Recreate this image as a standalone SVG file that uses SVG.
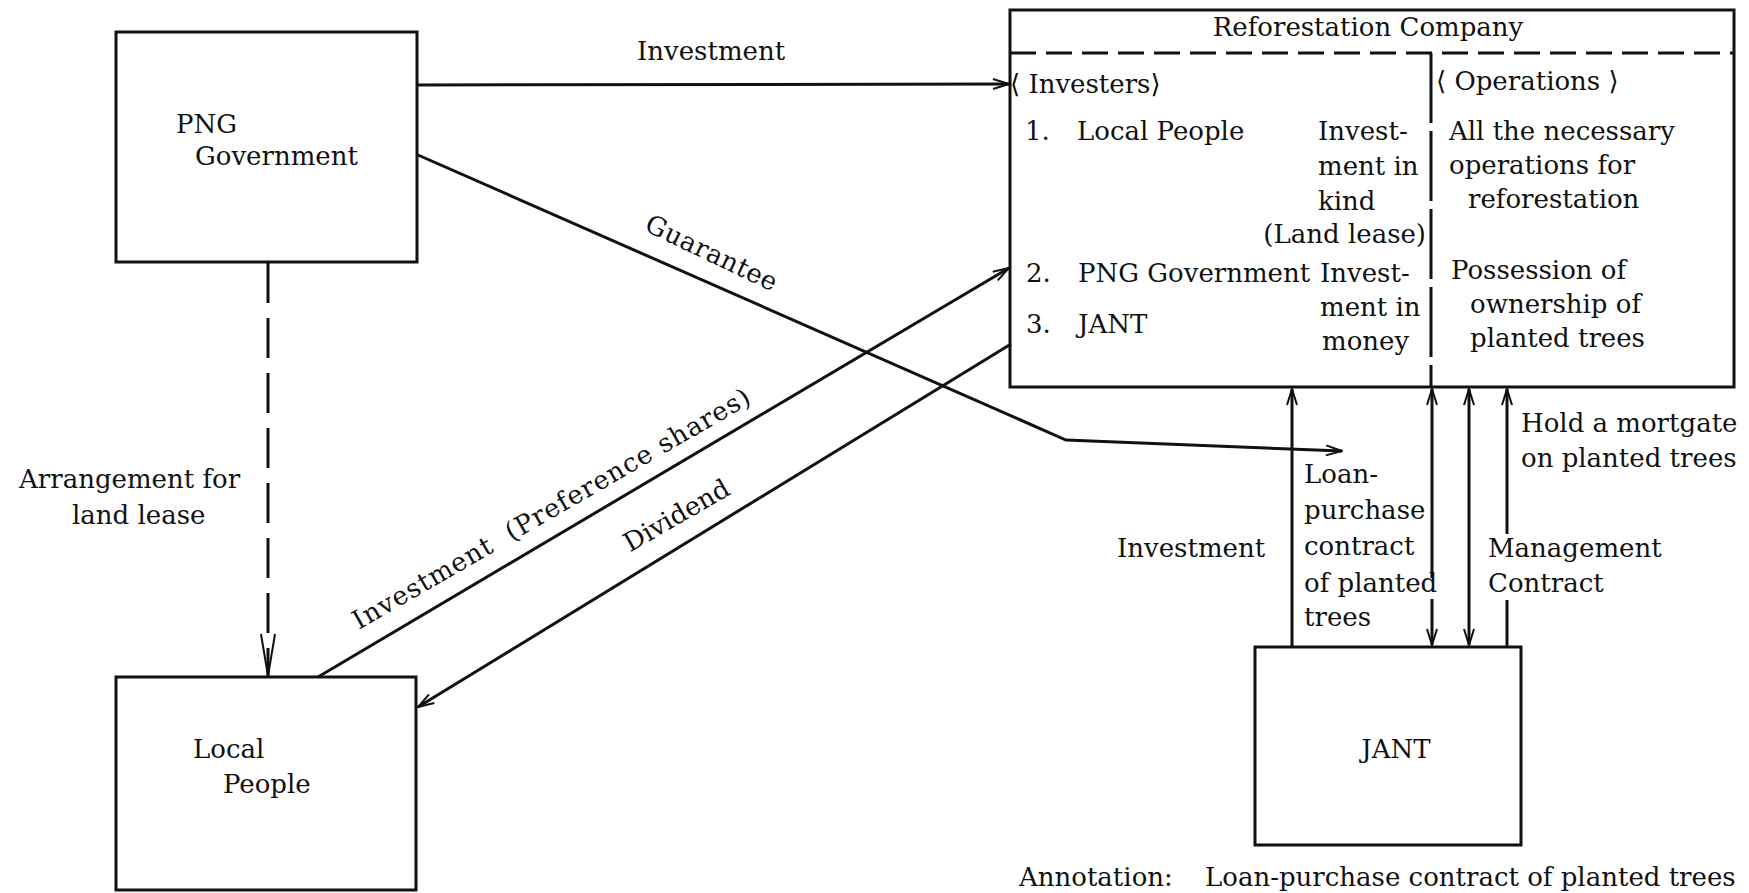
<svg xmlns="http://www.w3.org/2000/svg" width="1749" height="893" viewBox="0 0 1749 893">
  <style>
    .t { font-family: "DejaVu Serif", "Liberation Serif", serif; font-size: 26px; fill: #111; }
    .box { fill: none; stroke: #111; stroke-width: 3; }
    .ln { fill: none; stroke: #111; stroke-width: 3; }
    .dash { fill: none; stroke: #111; stroke-width: 3; stroke-dasharray: 40 15; }
  </style>
  <defs>
    <marker id="arr" viewBox="0 0 18 12" refX="17" refY="6" markerWidth="18" markerHeight="12" markerUnits="userSpaceOnUse" orient="auto-start-reverse">
      <path d="M1,1 L17,6 L1,11" fill="none" stroke="#111" stroke-width="2"/>
    </marker>
    <marker id="arrLong" viewBox="0 0 44 16" refX="43" refY="8" markerWidth="44" markerHeight="16" markerUnits="userSpaceOnUse" orient="auto">
      <path d="M1,1 L43,8 L1,15" fill="none" stroke="#111" stroke-width="2"/>
    </marker>
  </defs>
  <rect width="1749" height="893" fill="#fff"/>

  <g id="png-government">
    <rect class="box" x="116" y="32" width="301" height="230"/>
    <text class="t" x="176" y="133">PNG</text>
    <text class="t" x="195" y="165">Government</text>
  </g>

  <g id="local-people">
    <rect class="box" x="116" y="677" width="300" height="213"/>
    <text class="t" x="193" y="758">Local</text>
    <text class="t" x="223" y="793">People</text>
  </g>

  <g id="jant">
    <rect class="box" x="1255" y="647" width="266" height="198"/>
    <text class="t" x="1396" y="758" text-anchor="middle">JANT</text>
  </g>

  <g id="reforestation-company">
    <rect class="box" x="1010" y="10" width="724" height="377"/>
    <line class="ln" x1="1010" y1="53" x2="1734" y2="53" stroke-dasharray="26 10"/>
    <line class="ln" x1="1431" y1="53" x2="1431" y2="387" stroke-dasharray="70 8"/>
    <text class="t" x="1368" y="36" text-anchor="middle">Reforestation Company</text>
    <text class="t" x="1010" y="93">⟨ Investers⟩</text>
    <text class="t" x="1436" y="90">⟨ Operations ⟩</text>
    <text class="t" x="1025" y="140">1.</text>
    <text class="t" x="1077" y="140">Local People</text>
    <text class="t" x="1318" y="140">Invest-</text>
    <text class="t" x="1318" y="175">ment in</text>
    <text class="t" x="1318" y="210">kind</text>
    <text class="t" x="1426" y="243" text-anchor="end">(Land lease)</text>
    <text class="t" x="1026" y="282">2.</text>
    <text class="t" x="1078" y="282">PNG Government</text>
    <text class="t" x="1320" y="282">Invest-</text>
    <text class="t" x="1320" y="316">ment in</text>
    <text class="t" x="1026" y="333">3.</text>
    <text class="t" x="1078" y="333">JANT</text>
    <text class="t" x="1322" y="350">money</text>
    <text class="t" x="1449" y="140">All the necessary</text>
    <text class="t" x="1449" y="174">operations for</text>
    <text class="t" x="1468" y="208">reforestation</text>
    <text class="t" x="1451" y="279">Possession of</text>
    <text class="t" x="1470" y="313">ownership of</text>
    <text class="t" x="1470" y="347">planted trees</text>
  </g>

  <g id="connectors">
    <line class="ln" x1="418" y1="85" x2="1009" y2="84" marker-end="url(#arr)"/>
    <polyline class="ln" points="418,155 1066,440 1342,451" marker-end="url(#arr)"/>
    <line class="dash" x1="268" y1="263" x2="268" y2="676" marker-end="url(#arrLong)"/>
    <line class="ln" x1="318" y1="677" x2="1009" y2="268" marker-end="url(#arr)"/>
    <line class="ln" x1="1011" y1="344" x2="418" y2="707" marker-end="url(#arr)"/>
    <line class="ln" x1="1292" y1="647" x2="1292" y2="389" marker-end="url(#arr)"/>
    <line class="ln" x1="1432" y1="578" x2="1432" y2="389" marker-end="url(#arr)"/>
    <line class="ln" x1="1432" y1="599" x2="1432" y2="645" marker-end="url(#arr)"/>
    <line class="ln" x1="1469" y1="389" x2="1469" y2="645" marker-start="url(#arr)" marker-end="url(#arr)"/>
    <line class="ln" x1="1507" y1="534" x2="1507" y2="389" marker-end="url(#arr)"/>
    <line class="ln" x1="1507" y1="600" x2="1507" y2="647"/>
  </g>

  <g id="labels">
    <text class="t" x="637" y="60">Investment</text>
    <text class="t" x="708" y="261" text-anchor="middle" transform="rotate(25.5 708 261)" letter-spacing="0.5">Guarantee</text>
    <text class="t" x="556" y="516" text-anchor="middle" transform="rotate(-30 556 516)" font-size="25" letter-spacing="1" xml:space="preserve">Investment  (Preference shares)</text>
    <text class="t" x="681" y="523" text-anchor="middle" transform="rotate(-30 681 523)">Dividend</text>
    <text class="t" x="19" y="488">Arrangement for</text>
    <text class="t" x="72" y="524">land lease</text>
    <text class="t" x="1117" y="557">Investment</text>
    <text class="t" x="1304" y="483">Loan-</text>
    <text class="t" x="1304" y="519">purchase</text>
    <text class="t" x="1304" y="555">contract</text>
    <text class="t" x="1304" y="592">of planted</text>
    <text class="t" x="1304" y="626">trees</text>
    <text class="t" x="1521" y="432">Hold a mortgate</text>
    <text class="t" x="1521" y="467">on planted trees</text>
    <text class="t" x="1488" y="557">Management</text>
    <text class="t" x="1488" y="592">Contract</text>
    <text class="t" x="1019" y="886">Annotation:</text>
    <text class="t" x="1205" y="886">Loan-purchase contract of planted trees</text>
  </g>
</svg>
